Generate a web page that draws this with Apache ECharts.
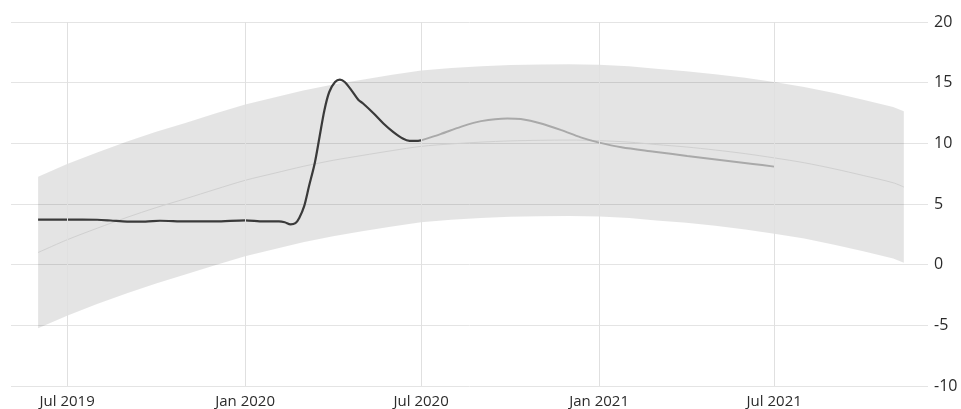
<!DOCTYPE html>
<html>
<head>
<meta charset="utf-8">
<script src="https://cdn.jsdelivr.net/npm/echarts@6/dist/echarts.min.js"></script>
<style>
html,body{margin:0;padding:0;background:#fff;}
#chart{width:961px;height:409px;}
</style>
</head>
<body>
<div id="chart"></div>
<script>
// ---- data ----
var bandDates = ['2019-06-01','2019-07-01','2019-08-01','2019-09-01','2019-10-01','2019-11-01','2019-12-01',
  '2020-01-01','2020-02-01','2020-03-01','2020-04-01','2020-05-01','2020-06-01','2020-07-01','2020-08-01','2020-09-01','2020-10-01','2020-11-01','2020-12-01',
  '2021-01-01','2021-02-01','2021-03-01','2021-04-01','2021-05-01','2021-06-01','2021-07-01','2021-08-01','2021-09-01','2021-10-01','2021-11-01','2021-11-12'];
var bandUpper = [7.25,8.3,9.25,10.15,10.95,11.7,12.45,
  13.2,13.8,14.35,14.85,15.25,15.65,16.0,16.2,16.35,16.45,16.5,16.52,
  16.47,16.35,16.15,15.95,15.7,15.4,15.05,14.65,14.15,13.6,13.0,12.65];
var bandCenter = [1.0,2.05,3.0,3.9,4.7,5.45,6.2,
  6.95,7.55,8.1,8.6,9.0,9.4,9.75,9.95,10.1,10.2,10.25,10.27,
  10.22,10.1,9.9,9.7,9.45,9.15,8.8,8.4,7.9,7.35,6.75,6.4];
var bandLower = [-5.25,-4.2,-3.25,-2.35,-1.55,-0.8,-0.05,
  0.7,1.3,1.85,2.35,2.75,3.15,3.5,3.7,3.85,3.95,4.0,4.02,
  3.97,3.85,3.65,3.45,3.2,2.9,2.55,2.15,1.65,1.1,0.5,0.15];

var actualDates = ['2019-06-01','2019-07-01','2019-08-01','2019-08-15','2019-09-01','2019-09-20','2019-10-05','2019-11-01','2019-12-01',
  '2020-01-01','2020-01-20','2020-02-05','2020-02-11','2020-02-17','2020-02-22','2020-02-26','2020-03-02','2020-03-07','2020-03-13',
  '2020-03-18','2020-03-23','2020-03-28','2020-04-03','2020-04-08','2020-04-13','2020-04-20','2020-04-27','2020-05-02','2020-05-13',
  '2020-05-23','2020-06-02','2020-06-12','2020-06-19','2020-06-28','2020-07-01'];
var actualValues = [3.71,3.71,3.7,3.64,3.55,3.55,3.62,3.56,3.56,
  3.65,3.56,3.57,3.5,3.32,3.42,3.85,4.8,6.44,8.36,
  10.54,12.73,14.23,15.05,15.25,15.05,14.37,13.6,13.28,12.46,
  11.64,10.95,10.4,10.21,10.21,10.24];

var laterDates = ['2020-07-01','2020-07-21','2020-08-11','2020-09-01','2020-09-28','2020-10-12','2020-11-02','2020-11-23','2020-12-13',
  '2020-12-31','2021-01-24','2021-02-27','2021-04-02','2021-05-06','2021-06-09','2021-07-01'];
var laterValues = [10.24,10.76,11.36,11.83,12.05,12.0,11.64,11.09,10.49,
  10.08,9.67,9.31,8.96,8.63,8.3,8.08];

var xTickDates = ['2019-07-01','2020-01-01','2020-07-01','2021-01-01','2021-07-01'];
var xTickLabels = ['Jul 2019','Jan 2020','Jul 2020','Jan 2021','Jul 2021'];
var yTicks = [-10,-5,0,5,10,15,20];

// ---- build ----
function ts(d){ return new Date(d + 'T00:00:00Z').getTime(); }
function pairs(dates, vals){ return dates.map(function(d,i){ return [ts(d), vals[i]]; }); }
var tickTs = xTickDates.map(ts);
var upperPts = pairs(bandDates, bandUpper);
var lowerPts = pairs(bandDates, bandLower);

var chart = echarts.init(document.getElementById('chart'), null, {renderer:'canvas'});
chart.setOption({
  animation:false,
  backgroundColor:'#ffffff',
  grid:{left:11,right:33,top:22,bottom:22,containLabel:false},
  xAxis:{
    type:'value',
    min: ts('2019-05-04'), max: ts('2021-12-07'),
    axisLine:{show:false}, axisTick:{show:false},
    splitLine:{show:false},
    axisLabel:{
      customValues: tickTs,
      margin:8,
      color:'#2b2b2b', fontSize:15, fontFamily:'Open Sans',
      formatter:function(v){ var i = tickTs.indexOf(v); return i>=0 ? xTickLabels[i] : ''; }
    }
  },
  yAxis:{
    type:'value', position:'right',
    min:yTicks[0], max:yTicks[yTicks.length-1], interval:5,
    axisLine:{show:false}, axisTick:{show:false},
    axisLabel:{margin:6, color:'#2b2b2b', fontSize:16, fontFamily:'Open Sans'},
    splitLine:{lineStyle:{color:'#e4e4e4', width:1}}
  },
  series:[
    {
      type:'custom', name:'band', silent:true, z:1,
      data:[upperPts[0]],
      encode:{x:0, y:1},
      renderItem:function(params, api){
        var pts = [];
        upperPts.forEach(function(p){ pts.push(api.coord(p)); });
        for (var i = lowerPts.length - 1; i >= 0; i--) pts.push(api.coord(lowerPts[i]));
        return {type:'polygon', shape:{points:pts}, style:{fill:'rgba(0,0,0,0.105)'}};
      },
      markLine:{
        silent:true, symbol:'none', label:{show:false},
        lineStyle:{color:'#e0e0e0', width:1, type:'solid'},
        data: tickTs.map(function(t){ return {xAxis:t}; })
      }
    },
    {
      type:'line', name:'center',
      data: pairs(bandDates, bandCenter), smooth:0.3,
      symbol:'none', lineStyle:{color:'#d0d0d0', width:1}, silent:true, z:2
    },
    {
      type:'line', name:'later',
      data: pairs(laterDates, laterValues), smooth:0.3,
      symbol:'none', lineStyle:{color:'#a9a9a9', width:2}, z:3
    },
    {
      type:'line', name:'actual',
      data: pairs(actualDates, actualValues), smooth:0.3,
      symbol:'none', lineStyle:{color:'#3a3a3a', width:2.2}, z:4
    }
  ]
});
</script>
</body>
</html>
